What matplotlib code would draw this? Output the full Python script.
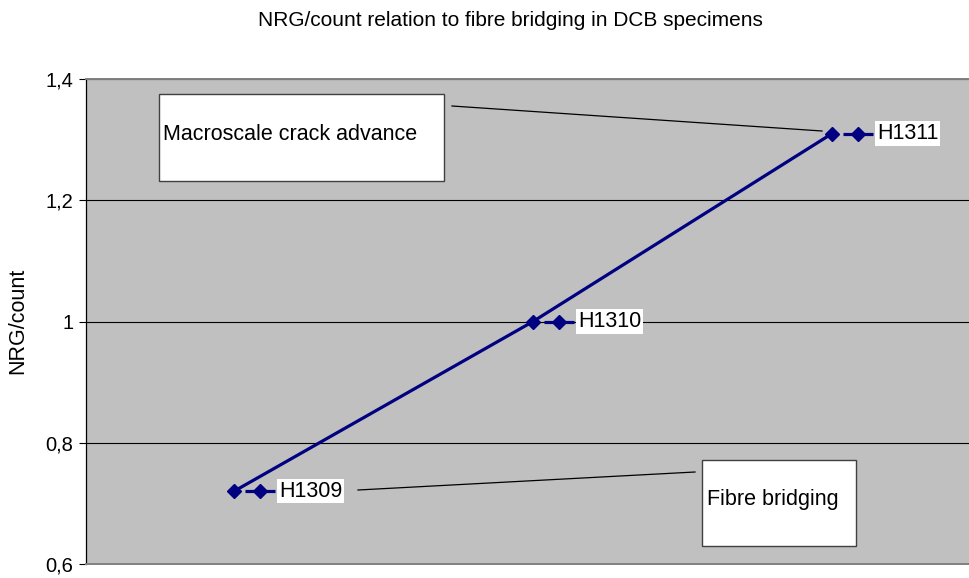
import matplotlib
matplotlib.use("Agg")
import matplotlib.pyplot as plt
from matplotlib.transforms import ScaledTranslation
from matplotlib.patches import Rectangle
from matplotlib.lines import Line2D

plt.rcParams['font.family'] = ['Liberation Sans', 'DejaVu Sans']

# Specimens and measured NRG/count
specimens = ["H1309", "H1310", "H1311"]
nrg_per_count = [0.72, 1.0, 1.31]

y_ticks = [0.6, 0.8, 1.0, 1.2, 1.4]
y_tick_labels = ["0,6", "0,8", "1", "1,2", "1,4"]

title = "NRG/count relation to fibre bridging in DCB specimens"
y_label = "NRG/count"

W, H = 970, 578
fig = plt.figure(figsize=(W / 100, H / 100), dpi=100)
fig.patch.set_facecolor("white")

# plot area in pixel units (left, top, right, bottom)
L, T, R, B = 86, 79, 972, 564
ax = fig.add_axes([L / W, 1 - B / H, (R - L) / W, (B - T) / H])
ax.set_facecolor("#c0c0c0")

navy = "#000080"
x = list(range(len(specimens)))
ax.plot(x, nrg_per_count, color=navy, lw=2.3, marker="D", ms=7.5,
        mec=navy, mfc=navy, zorder=4, clip_on=False)

ax.set_xlim(-0.495, 2.468)
ax.set_ylim(0.6, 1.4)
ax.set_yticks(y_ticks)
ax.set_yticklabels(y_tick_labels, fontsize=14.5)
ax.set_xticks([])
ax.yaxis.grid(True, color="black", lw=0.8)
ax.set_axisbelow(True)
ax.tick_params(axis="y", direction="out", length=5, width=0.8, color="black", pad=4)

for side in ("top", "bottom"):
    ax.spines[side].set_color("#808080")
    ax.spines[side].set_linewidth(1.4)
ax.spines["left"].set_color("black")
ax.spines["left"].set_linewidth(0.9)
ax.spines["right"].set_visible(False)

fig.text(510 / W, 1 - 20 / H, title, ha="center", va="center", fontsize=15)
fig.text(18 / W, 1 - 321 / H, y_label, ha="center", va="center",
         rotation=90, fontsize=15.5)

# data labels with a legend key in front of each label
for xi, yi, name in zip(x, nrg_per_count, specimens):
    key = ax.transData + ScaledTranslation(26 / 100, 0, fig.dpi_scale_trans)
    ax.plot([xi], [yi], transform=key, marker="_", ms=21.5, mew=2.3,
            color=navy, zorder=5, clip_on=False)
    ax.plot([xi], [yi], transform=key, marker="D", ms=7.5, color=navy,
            zorder=6, clip_on=False)
    ax.annotate(name, (xi, yi), xytext=(45 * 0.72, 0), textcoords="offset points",
                ha="left", va="center", fontsize=15.5, zorder=6,
                bbox=dict(boxstyle="square,pad=0.08", fc="white", ec="none"))


def fx(px):
    return px / W


def fy(py):
    return 1 - py / H


def note(text, left, top, right, bottom, text_x, text_y):
    fig.patches.append(Rectangle((fx(left), fy(bottom)), fx(right) - fx(left),
                                 fy(top) - fy(bottom), transform=fig.transFigure,
                                 fc="white", ec="#404040", lw=1.0, zorder=7))
    fig.text(fx(text_x), fy(text_y), text, ha="left", va="center",
             fontsize=15.5, zorder=8)


def connector(x0, y0, x1, y1):
    fig.lines.append(Line2D([fx(x0), fx(x1)], [fy(y0), fy(y1)],
                            transform=fig.transFigure, color="black", lw=0.9,
                            zorder=7))


note("Macroscale crack advance", 159, 94, 444, 181, 163, 134)
connector(452, 106, 822, 131)
note("Fibre bridging", 702, 460, 856, 546, 707, 500)
connector(358, 490, 695, 472)

fig.savefig("out.png", dpi=100, facecolor="white")
